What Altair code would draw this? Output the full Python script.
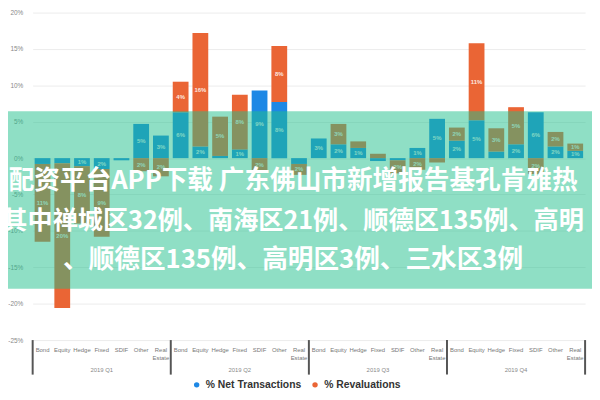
import altair as alt
import pandas as pd

quarters = ["2019 Q1", "2019 Q2", "2019 Q3", "2019 Q4"]
categories = ["Bond", "Equity", "Hedge", "Fixed", "SDIF", "Other", "Real Estate"]
series_names = ["% Net Transactions", "% Revaluations"]
series_colors = ["#1e88e5", "#ea6535"]

net_transactions = [
    [-0.8, -0.7, -1.1, -1.5, -0.3, 4.7, 3.1],
    [6.3, 1.6, 0.3, 1.2, 9.3, 7.7, -0.8],
    [2.7, 1.9, 1.4, -0.4, -0.3, 1.4, 5.4],
    [2.4, 5.2, 0.9, 1.9, 6.3, 1.6, 1.0],
]
revaluations = [
    [-10.7, -19.9, -7.9, -9.3, 0.0, -1.8, -2.5],
    [4.2, 15.6, 5.4, 7.5, -1.8, 7.7, -1.5],
    [0.0, 2.8, 0.9, 0.6, -1.8, -1.6, -0.6],
    [1.8, 10.6, 3.2, 5.1, -2.2, 2.0, 1.0],
]
y_ticks = [-25, -20, -15, -10, -5, 0, 5, 10, 15, 20]

banner_lines = [
    "配资平台APP下载 广东佛山市新增报告基孔肯雅热",
    "其中禅城区32例、南海区21例、顺德区135例、高明",
    "、顺德区135例、高明区3例、三水区3例",
]

rows = []
for qi, q in enumerate(quarters):
    for ci, c in enumerate(categories):
        pos = 0.0
        neg = 0.0
        for s, arr in zip(series_names, [net_transactions, revaluations]):
            v = arr[qi][ci]
            if v >= 0:
                lo, hi = pos, pos + v
                pos = hi
            else:
                lo, hi = neg + v, neg
                neg = lo
            rows.append(dict(
                key=f"{q}|{c}", quarter=q, category=c, series=s, value=v,
                lo=lo, hi=hi, mid=(lo + hi) / 2,
                label=(f"{abs(round(v))}%" if abs(v) >= 1 else ""),
            ))
df = pd.DataFrame(rows)
keys = [f"{q}|{c}" for q in quarters for c in categories]

xscale = alt.Scale(domain=keys, paddingInner=0.2, paddingOuter=0.1)
yscale = alt.Scale(domain=[-25, 20], nice=False)
FONT = "Liberation Sans"

yaxis = alt.Axis(
    values=y_ticks, labelExpr="datum.value + '%'", title=None, domain=False,
    ticks=False, gridColor="#ececec", labelFontSize=6.5, labelColor="#888",
    labelFont=FONT, labelPadding=10, labelOverlap=False,
)
xaxis = alt.Axis(
    title=None, labelAngle=0, labelFontSize=6, labelColor="#777", labelFont=FONT,
    domain=False, ticks=False, labelPadding=7, labelBaseline="top",
    labelLineHeight=8, labelOverlap=False,
    labelExpr="split(datum.value, '|')[1] == 'Real Estate' ? ['Real', 'Estate'] : split(datum.value, '|')[1]",
)

base = alt.Chart(df)

bars = base.mark_bar().encode(
    x=alt.X("key:N", sort=keys, scale=xscale, axis=xaxis),
    y=alt.Y("lo:Q", scale=yscale, axis=yaxis),
    y2="hi:Q",
    color=alt.Color("series:N", sort=series_names,
                    scale=alt.Scale(domain=series_names, range=series_colors),
                    legend=alt.Legend(orient="none", legendX=161, legendY=372,
                                      direction="horizontal", title=None,
                                      labelFontSize=10.5, labelFontWeight="bold",
                                      labelColor="#333", labelFont=FONT,
                                      symbolType="circle", symbolSize=30,
                                      columnPadding=8, labelLimit=300)),
)

labels = base.mark_text(fontSize=6, color="white", fontWeight="bold", font=FONT,
                        opacity=0.85).encode(
    x=alt.X("key:N", sort=keys, scale=xscale, axis=xaxis),
    y=alt.Y("mid:Q", scale=yscale, axis=yaxis),
    text="label:N",
)

sep_left = pd.DataFrame({"key": [f"{q}|{categories[0]}" for q in quarters]})
sep_right = pd.DataFrame({"key": [f"{quarters[-1]}|{categories[-1]}"]})
seps_l = alt.Chart(sep_left).mark_rule(color="#555", strokeWidth=2, xOffset=-10).encode(
    x=alt.X("key:N", sort=keys, scale=xscale, axis=xaxis), y=alt.value(332), y2=alt.value(367))
seps_r = alt.Chart(sep_right).mark_rule(color="#555", strokeWidth=2, xOffset=10).encode(
    x=alt.X("key:N", sort=keys, scale=xscale, axis=xaxis), y=alt.value(332), y2=alt.value(367))

grp_df = pd.DataFrame({"key": [f"{q}|{categories[3]}" for q in quarters], "quarter": quarters})
grp = alt.Chart(grp_df).mark_text(fontSize=6, color="#888", font=FONT).encode(
    x=alt.X("key:N", sort=keys, scale=xscale, axis=xaxis), y=alt.value(362), text="quarter:N")

banner = alt.Chart(alt.Data(values=[{}])).mark_rect(color="#1fbf8c", opacity=0.5).encode(
    x=alt.value(-25), x2=alt.value(567), y=alt.value(100), y2=alt.value(280))

banner_ys = [171, 211, 251]
banner_sizes = [26, 25.5, 26]
banner_texts = [
    alt.Chart(alt.Data(values=[{}])).mark_text(
        font="Noto Sans CJK SC", fontSize=fs, fontWeight="bold", color="white",
        align="center", baseline="middle").encode(
        x=alt.value(264), y=alt.value(yv), text=alt.value(t))
    for t, yv, fs in zip(banner_lines, banner_ys, banner_sizes)
]

chart = alt.layer(bars, labels, seps_l, seps_r, grp, banner, *banner_texts).properties(
    width=560, height=332,
    padding={"left": 25, "top": 2, "right": 7, "bottom": 50},
    autosize=alt.AutoSizeParams(type="none"),
    background="white",
).configure_view(stroke=None)

chart.save("out.html", embed_options={"renderer": "svg", "actions": False})
